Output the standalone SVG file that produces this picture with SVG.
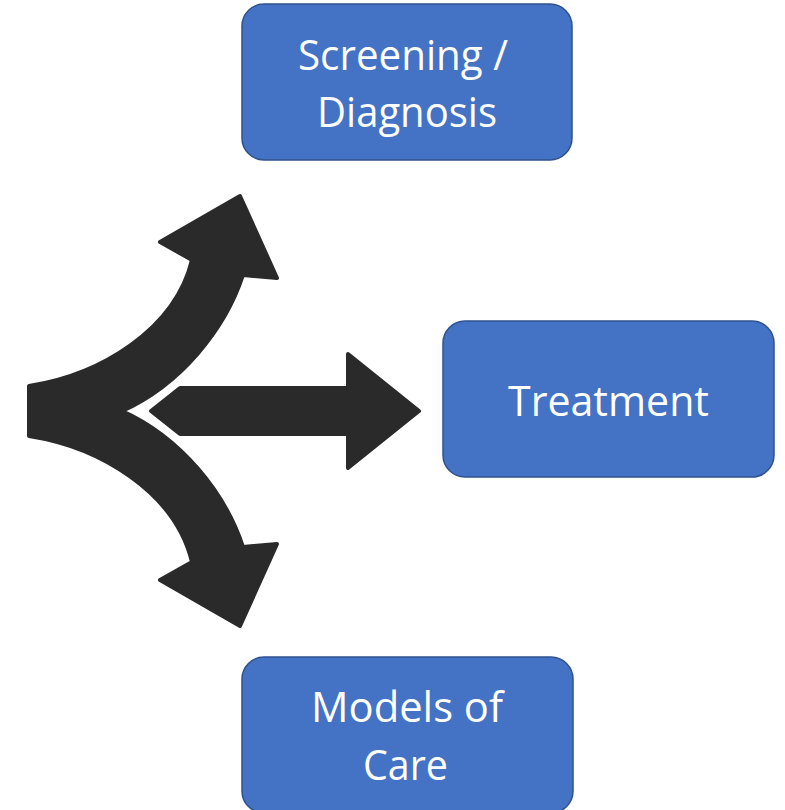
<svg xmlns="http://www.w3.org/2000/svg" width="785" height="810" viewBox="0 0 785 810">
<style>
.box{fill:#4472C4;stroke:#2F528F;stroke-width:1.5}
.lbl{font-family:"Open Sans","Liberation Sans",sans-serif;font-size:42px;fill:#ffffff;text-anchor:middle}
.arr{fill:#2a2a2a;stroke:#2a2a2a;stroke-width:4;stroke-linejoin:round}
</style>
<rect width="785" height="810" fill="#ffffff"/>
<g id="connectors">
<path class="arr" d="M29,386 C100,375 175,330 192,260 L160,242 L240,196 L277,278 L243,275 C225,330 180,385 122,411 C180,437 225,492 243,547 L277,544 L240,626 L160,580 L192,562 C175,492 100,447 29,436 Z"/>
<path class="arr" d="M151,411 L180,388 L348,388 L348,354 L419,411 L348,468 L348,434 L180,434 Z"/>
</g>
<g id="screening">
<rect class="box" x="242" y="4" width="330" height="156" rx="22"/>
<text class="lbl" x="403" y="70" textLength="210" lengthAdjust="spacingAndGlyphs">Screening /</text>
<text class="lbl" x="407" y="127" textLength="180" lengthAdjust="spacingAndGlyphs">Diagnosis</text>
</g>
<g id="treatment">
<rect class="box" x="443" y="321" width="331" height="156" rx="22"/>
<text class="lbl" x="608.5" y="416" textLength="201" lengthAdjust="spacingAndGlyphs">Treatment</text>
</g>
<g id="models">
<rect class="box" x="242" y="657" width="331" height="156" rx="22"/>
<text class="lbl" x="407" y="722" textLength="192" lengthAdjust="spacingAndGlyphs">Models of</text>
<text class="lbl" x="405.5" y="780" textLength="85" lengthAdjust="spacingAndGlyphs">Care</text>
</g>
</svg>
